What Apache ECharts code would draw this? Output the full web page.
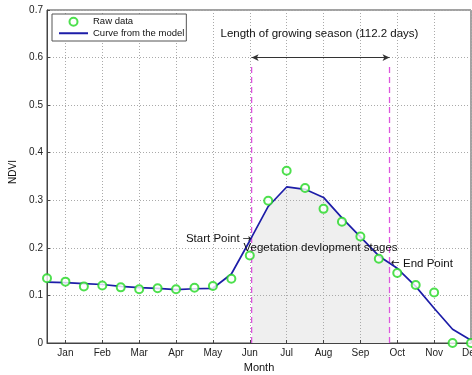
<!DOCTYPE html>
<html><head><meta charset="utf-8">
<script src="https://cdn.jsdelivr.net/npm/echarts@6/dist/echarts.min.js"></script>
<style>html,body{margin:0;padding:0;background:#fff}#c{width:472px;height:375px}</style>
</head><body><div id="c"></div>
<script>
const monthNames = ['Jan','Feb','Mar','Apr','May','Jun','Jul','Aug','Sep','Oct','Nov','Dec'];
const monthTicks = [1,2,3,4,5,6,7,8,9,10,11,12];
const sampleX = [0.5,1,1.5,2,2.5,3,3.5,4,4.5,5,5.5,6,6.5,7,7.5,8,8.5,9,9.5,10,10.5,11,11.5,12];
const rawNdvi = [0.136,0.129,0.119,0.121,0.117,0.113,0.115,0.113,0.116,0.120,0.135,0.184,0.299,0.362,0.326,0.282,0.255,0.224,0.177,0.147,0.122,0.106,0,0];
const modelNdvi = [0.128,0.127,0.125,0.123,0.119,0.1165,0.115,0.112,0.114,0.115,0.145,0.215,0.287,0.328,0.323,0.306,0.263,0.223,0.183,0.157,0.119,0.073,0.029,0.006];
const seasonStart = 6.05;
const seasonEnd = 9.79;
const seasonDays = 112.2;
const boundaryTop = 0.585;
const arrowLevel = 0.6;

const pair = (xs, ys) => xs.map((x, i) => [x, ys[i]]);
const FONT = 'Liberation Sans, Arial, sans-serif';
const arrowRich = {a: {fontFamily: 'DejaVu Sans', fontSize: 10.5, color: '#111'}};
const txt = (text, coord, align, size) => ({
  coord: coord, value: 0,
  label: {show: true, formatter: text, position: [0, 0], align: align, verticalAlign: 'middle',
          fontSize: size, color: '#111', fontFamily: FONT, rich: arrowRich}
});
const boundarySeries = x => ({
  type: 'line', z: 2, silent: true, symbol: 'none', showSymbol: false,
  data: [[x, 0], [x, boundaryTop]],
  lineStyle: {color: '#dd55dd', type: [6, 4], width: 1.3},
  itemStyle: {color: '#dd55dd'}
});

const chart = echarts.init(document.getElementById('c'), null, {renderer: 'canvas'});
chart.setOption({
  animation: false,
  backgroundColor: '#fff',
  textStyle: {fontFamily: FONT},
  grid: {left: 47, right: 1, top: 10, bottom: 32, show: true, borderColor: '#444', borderWidth: 1,
         backgroundColor: 'transparent', z: 0, outerBoundsMode: 'none', containLabel: false},
  legend: {
    data: ['Raw data', {name: 'Curve from the model', itemStyle: {opacity: 0}}],
    orient: 'vertical', left: 52, top: 14,
    backgroundColor: '#fff', borderColor: '#555', borderWidth: 1,
    padding: [2, 2, 2, 6], itemWidth: 29, itemHeight: 8, itemGap: 0,
    textStyle: {fontSize: 9.5, color: '#111', lineHeight: 11.5, fontFamily: FONT}
  },
  visualMap: {
    type: 'piecewise', show: false, seriesIndex: 2, dimension: 0,
    pieces: [{gte: seasonStart, lte: seasonEnd, color: '#efefef'}],
    outOfRange: {color: 'rgba(255,255,255,0)'}
  },
  xAxis: {
    type: 'value', min: 0.5, max: 12, z: 1,
    name: 'Month', nameLocation: 'middle', nameGap: 15,
    nameTextStyle: {fontSize: 11, color: '#111', fontFamily: FONT},
    axisLine: {show: true, lineStyle: {color: '#444'}},
    axisTick: {show: true, inside: true, length: 3, customValues: monthTicks, lineStyle: {color: '#444'}},
    axisLabel: {customValues: monthTicks, formatter: v => monthNames[Math.round(v) - 1], fontSize: 10,
                color: '#222', margin: 5, fontFamily: FONT},
    splitLine: {show: true, lineStyle: {color: '#aaa', type: [1, 2], width: 1}}
  },
  yAxis: {
    type: 'value', min: 0, max: 0.7, interval: 0.1, z: 1,
    name: 'NDVI', nameLocation: 'middle', nameGap: 18,
    nameTextStyle: {fontSize: 10, color: '#111', fontFamily: FONT, padding: [0, 0, 0, 9]},
    axisLine: {show: true, lineStyle: {color: '#444'}},
    axisTick: {show: true, inside: true, length: 3, lineStyle: {color: '#444'}},
    axisLabel: {formatter: v => v === 0 ? '0' : v.toFixed(1), fontSize: 10, color: '#222', margin: 4, fontFamily: FONT},
    splitLine: {show: true, lineStyle: {color: '#aaa', type: [1, 2], width: 1}}
  },
  series: [
    {
      name: 'Raw data', type: 'scatter', z: 4, clip: false,
      data: pair(sampleX, rawNdvi),
      symbol: 'emptyCircle', symbolSize: 8,
      itemStyle: {color: '#22d822', borderColor: '#22d822', borderWidth: 2}
    },
    {
      name: 'Curve from the model', type: 'line', z: 3,
      data: pair(sampleX, modelNdvi),
      symbol: 'none', showSymbol: false,
      lineStyle: {color: '#1d1da8', width: 1.7},
      itemStyle: {color: '#1d1da8'},
      markLine: {
        silent: true, animation: false,
        label: {show: false},
        lineStyle: {color: '#333', type: 'solid', width: 1},
        data: [
          [{coord: [seasonStart, arrowLevel], symbol: 'arrow', symbolSize: [5, 7]},
           {coord: [seasonEnd, arrowLevel], symbol: 'arrow', symbolSize: [5, 7]}]
        ]
      },
      markPoint: {
        silent: true, animation: false,
        symbol: 'circle', symbolSize: 0,
        itemStyle: {color: 'rgba(0,0,0,0)'},
        data: [
          txt('Length of growing season (' + seasonDays + ' days)', [7.89, 0.6505], 'center', 11.5),
          txt('Start Point {a|\u2192}', [seasonStart, 0.219], 'right', 11.5),
          txt('Vegetation devlopment stages', [5.83, 0.2006], 'left', 11.5),
          txt('{a|\u2190} End Point', [9.83, 0.167], 'left', 11.5)
        ]
      }
    },
    {
      type: 'line', z: 0, silent: true,
      data: pair(sampleX, modelNdvi),
      symbol: 'none', showSymbol: false,
      lineStyle: {width: 0, opacity: 0},
      areaStyle: {opacity: 1}
    },
    boundarySeries(seasonStart),
    boundarySeries(seasonEnd)
  ]
});
</script></body></html>
